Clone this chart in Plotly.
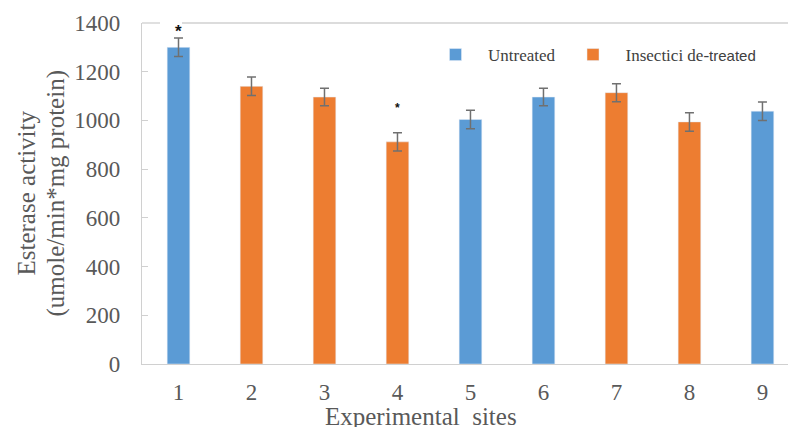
import plotly.graph_objects as go

sites = [1, 2, 3, 4, 5, 6, 7, 8, 9]
activity = [1300, 1140, 1096, 912, 1004, 1096, 1114, 994, 1038]
errors = [38, 38, 36, 37, 38, 36, 37, 38, 38]
groups = ["U", "T", "T", "T", "U", "U", "T", "T", "U"]
group_names = {"U": "Untreated",
               "T": "Insectici de-<span style=\"font-family:'Liberation Sans';font-size:15px\">treated</span>"}
group_colors = {"U": "#5B9BD5", "T": "#ED7D31"}
star_sites = [1, 4]
star_y = [1366, 1050]
star_size = [17, 12]
y_ticks = [0, 200, 400, 600, 800, 1000, 1200, 1400]
y_title_lines = ["Esterase activity", "(umole/min*mg protein)"]
x_title = "Experimental  sites"

serif = "Liberation Serif"
txt = "#595959"
L, T, B, W, H = 142, 23, 63, 788, 427
pw, ph = W - L, H - T - B

fig = go.Figure()
for g in ["U", "T"]:
    xs = [s for s, gg in zip(sites, groups) if gg == g]
    ys = [v for v, gg in zip(activity, groups) if gg == g]
    es = [e for e, gg in zip(errors, groups) if gg == g]
    fig.add_trace(go.Bar(
        x=xs, y=ys, name=group_names[g], width=0.31,
        marker=dict(color=group_colors[g]),
        error_y=dict(type="data", array=es, color="#707070", thickness=1.5, width=4.5),
    ))

for sx, sy, sz in zip(star_sites, star_y, star_size):
    fig.add_annotation(x=sx, y=sy, text="<b>*</b>", showarrow=False,
                       font=dict(family="Liberation Sans", size=sz, color="#111111"))

fig.add_annotation(x=(421 - L) / pw, y=0, xref="paper", yref="paper",
                   yshift=-52, text=x_title, showarrow=False,
                   xanchor="center", yanchor="middle",
                   font=dict(family=serif, size=25, color=txt))

for px, line in zip([26, 55], y_title_lines):
    fig.add_annotation(x=(px - L) / pw, y=0.5, xref="paper", yref="paper",
                       text=line, textangle=-90, showarrow=False,
                       xanchor="center", yanchor="middle",
                       font=dict(family=serif, size=25, color=txt))

# top border with a small gap
fig.add_shape(type="line", xref="paper", yref="paper", x0=0, x1=18 / pw, y0=1, y1=1,
              line=dict(color="#D0D0D0", width=1.3))
fig.add_shape(type="line", xref="paper", yref="paper", x0=40 / pw, x1=1, y0=1, y1=1,
              line=dict(color="#D0D0D0", width=1.3))

fig.update_layout(
    width=W, height=H,
    margin=dict(l=L, r=0, t=T, b=B, autoexpand=False),
    paper_bgcolor="white", plot_bgcolor="white",
    barmode="overlay",
    showlegend=True,
    legend=dict(orientation="h", x=(423 - L) / pw, y=(364 - 55) / ph,
                xanchor="left", yanchor="middle", itemwidth=55,
                bgcolor="rgba(0,0,0,0)",
                font=dict(family=serif, size=17, color="#404040")),
    xaxis=dict(range=[0.5, 9.35], tickvals=sites, ticktext=[str(s) for s in sites],
               showline=True, linecolor="#D0D0D0", linewidth=1.3, ticks="",
               showgrid=False, zeroline=False, ticklabelstandoff=7, automargin=False,
               tickfont=dict(family=serif, size=23, color=txt)),
    yaxis=dict(range=[0, 1400], tickvals=y_ticks, showline=True, linecolor="#D0D0D0",
               linewidth=1.3, ticks="inside", ticklen=6, tickcolor="#D0D0D0",
               showgrid=False, zeroline=False, ticklabelstandoff=16, automargin=False,
               tickfont=dict(family=serif, size=23, color=txt)),
)

fig.write_html("out.html", config={"displayModeBar": False},
               post_script="document.body.style.margin='0';")
